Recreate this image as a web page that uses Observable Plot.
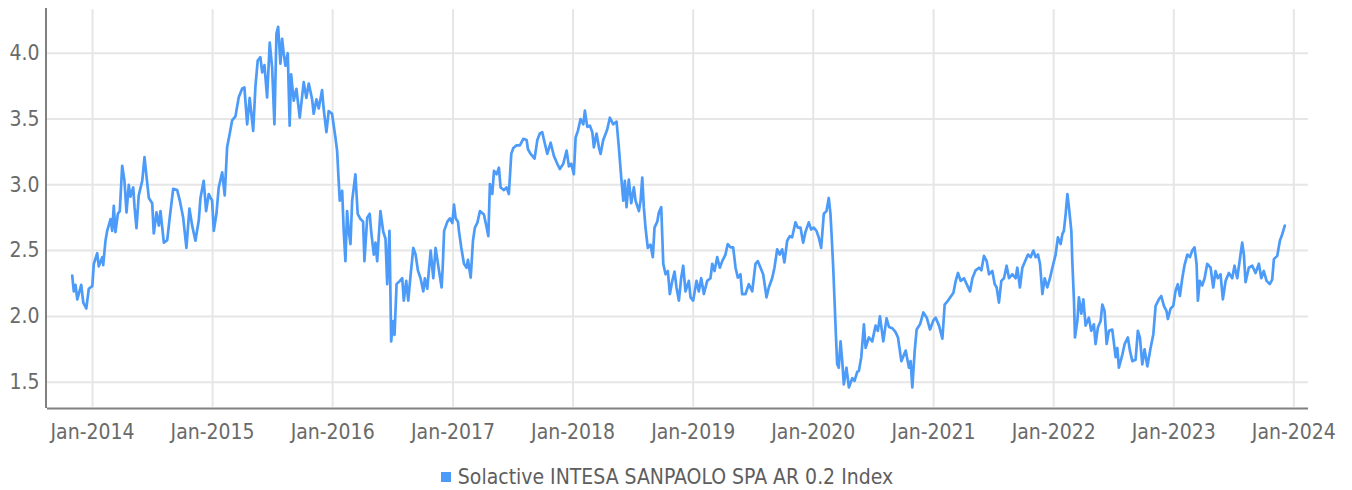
<!DOCTYPE html>
<html>
<head>
<meta charset="utf-8">
<script src="https://cdn.jsdelivr.net/npm/d3@7"></script>
<script src="https://cdn.jsdelivr.net/npm/@observablehq/plot@0.6"></script>
<style>
  html, body { margin: 0; padding: 0; background: #ffffff; }
  body { font-family: "DejaVu Sans Condensed", "DejaVu Sans", sans-serif; font-stretch: condensed; }
  #legend { display: flex; justify-content: center; align-items: center; margin-top: 11px; margin-left: -18px;
            font-size: 21px; line-height: 22px; color: #5e5e5e; }
  #legend .sw { width: 10px; height: 10px; margin-right: 7px; }
</style>
</head>
<body>
<div id="chart"></div>
<div id="legend"></div>
<script>
// ---- data (dates as decimal years, values of the index) ----
const seriesName = "Solactive INTESA SANPAOLO SPA AR 0.2 Index";
const t = [
2013.831,2013.844,2013.858,2013.873,2013.906,2013.923,2013.948,2013.969,2013.998,2014.011,
2014.039,2014.052,2014.081,2014.089,2014.108,2014.122,2014.150,2014.164,2014.177,2014.191,
2014.211,2014.227,2014.247,2014.266,2014.283,2014.302,2014.316,2014.339,2014.350,2014.366,
2014.385,2014.414,2014.433,2014.450,2014.469,2014.497,2014.510,2014.533,2014.552,2014.566,
2014.594,2014.622,2014.643,2014.672,2014.705,2014.727,2014.755,2014.782,2014.807,2014.830,
2014.857,2014.885,2014.899,2014.926,2014.946,2014.968,2014.996,2015.010,2015.032,2015.051,
2015.080,2015.101,2015.121,2015.143,2015.163,2015.190,2015.218,2015.246,2015.265,2015.288,
2015.309,2015.338,2015.357,2015.376,2015.398,2015.413,2015.432,2015.454,2015.476,2015.496,
2015.515,2015.532,2015.546,2015.565,2015.579,2015.592,2015.607,2015.626,2015.642,2015.654,
2015.676,2015.698,2015.726,2015.759,2015.781,2015.801,2015.829,2015.842,2015.865,2015.884,
2015.912,2015.925,2015.948,2015.967,2015.995,2016.023,2016.037,2016.050,2016.059,2016.079,
2016.092,2016.106,2016.120,2016.134,2016.148,2016.162,2016.189,2016.208,2016.231,2016.253,
2016.264,2016.287,2016.308,2016.320,2016.342,2016.356,2016.370,2016.397,2016.420,2016.439,
2016.453,2016.472,2016.486,2016.503,2016.514,2016.531,2016.558,2016.578,2016.591,2016.611,
2016.628,2016.647,2016.670,2016.689,2016.708,2016.730,2016.753,2016.766,2016.786,2016.814,
2016.836,2016.855,2016.883,2016.905,2016.914,2016.926,2016.953,2016.974,2016.994,2017.008,
2017.022,2017.041,2017.049,2017.069,2017.091,2017.113,2017.124,2017.147,2017.166,2017.182,
2017.202,2017.224,2017.257,2017.280,2017.294,2017.307,2017.327,2017.341,2017.363,2017.382,
2017.396,2017.424,2017.446,2017.465,2017.485,2017.502,2017.529,2017.557,2017.585,2017.613,
2017.624,2017.646,2017.679,2017.702,2017.723,2017.743,2017.763,2017.785,2017.813,2017.840,
2017.868,2017.890,2017.918,2017.946,2017.965,2017.985,2018.006,2018.021,2018.040,2018.062,
2018.085,2018.098,2018.118,2018.140,2018.160,2018.173,2018.195,2018.215,2018.229,2018.251,
2018.284,2018.306,2018.334,2018.362,2018.381,2018.401,2018.418,2018.431,2018.445,2018.464,
2018.484,2018.506,2018.520,2018.548,2018.562,2018.576,2018.589,2018.603,2018.622,2018.645,
2018.664,2018.678,2018.701,2018.714,2018.734,2018.751,2018.770,2018.789,2018.806,2018.826,
2018.845,2018.861,2018.881,2018.900,2018.917,2018.936,2018.964,2018.978,2019.000,2019.028,
2019.047,2019.067,2019.089,2019.117,2019.144,2019.159,2019.178,2019.200,2019.222,2019.242,
2019.269,2019.288,2019.311,2019.333,2019.353,2019.372,2019.394,2019.408,2019.436,2019.463,
2019.492,2019.519,2019.538,2019.561,2019.583,2019.611,2019.630,2019.658,2019.677,2019.700,
2019.721,2019.741,2019.760,2019.783,2019.805,2019.824,2019.852,2019.871,2019.894,2019.916,
2019.935,2019.963,2019.983,2020.004,2020.027,2020.046,2020.066,2020.088,2020.110,2020.129,
2020.143,2020.152,2020.166,2020.177,2020.188,2020.199,2020.212,2020.227,2020.241,2020.254,
2020.276,2020.296,2020.324,2020.343,2020.366,2020.379,2020.399,2020.421,2020.435,2020.462,
2020.490,2020.518,2020.537,2020.554,2020.582,2020.609,2020.629,2020.657,2020.684,2020.704,
2020.732,2020.768,2020.795,2020.809,2020.823,2020.843,2020.859,2020.887,2020.915,2020.943,
2020.970,2020.998,2021.017,2021.045,2021.073,2021.092,2021.120,2021.142,2021.165,2021.184,
2021.203,2021.225,2021.253,2021.275,2021.303,2021.323,2021.350,2021.378,2021.398,2021.419,
2021.442,2021.461,2021.489,2021.509,2021.525,2021.544,2021.564,2021.586,2021.608,2021.628,
2021.656,2021.683,2021.697,2021.719,2021.739,2021.767,2021.786,2021.808,2021.831,2021.850,
2021.869,2021.886,2021.906,2021.925,2021.947,2021.969,2021.989,2022.016,2022.035,2022.058,
2022.072,2022.085,2022.100,2022.114,2022.127,2022.147,2022.155,2022.169,2022.177,2022.197,
2022.210,2022.230,2022.247,2022.266,2022.293,2022.313,2022.335,2022.349,2022.368,2022.391,
2022.405,2022.424,2022.441,2022.460,2022.488,2022.516,2022.530,2022.543,2022.572,2022.591,
2022.618,2022.635,2022.655,2022.682,2022.701,2022.718,2022.738,2022.757,2022.780,2022.807,
2022.830,2022.849,2022.876,2022.896,2022.918,2022.940,2022.951,2022.974,2022.996,2023.015,
2023.034,2023.051,2023.071,2023.090,2023.113,2023.134,2023.154,2023.173,2023.190,2023.201,
2023.217,2023.237,2023.257,2023.279,2023.307,2023.329,2023.348,2023.367,2023.390,2023.409,
2023.432,2023.459,2023.487,2023.506,2023.529,2023.556,2023.570,2023.584,2023.598,2023.625,
2023.654,2023.681,2023.709,2023.729,2023.750,2023.773,2023.800,2023.820,2023.834,2023.862,
2023.884,2023.904,2023.925
];
const v = [
2.31,2.19,2.24,2.13,2.24,2.105,2.06,2.21,2.23,2.40,
2.48,2.38,2.45,2.39,2.575,2.65,2.74,2.65,2.84,2.64,
2.78,2.80,3.145,3.03,2.79,3.00,2.91,2.98,2.83,2.67,
2.92,3.03,3.21,3.06,2.90,2.86,2.63,2.79,2.69,2.80,
2.56,2.58,2.75,2.97,2.96,2.88,2.75,2.52,2.82,2.69,
2.575,2.73,2.90,3.03,2.80,2.93,2.88,2.65,2.78,2.98,
3.095,2.92,3.285,3.39,3.49,3.52,3.665,3.73,3.74,3.46,
3.66,3.41,3.75,3.945,3.97,3.855,3.91,3.665,4.08,3.89,
3.46,4.15,4.20,3.92,4.11,4.00,3.905,4.00,3.45,3.84,
3.64,3.73,3.51,3.78,3.66,3.77,3.65,3.54,3.65,3.58,
3.72,3.58,3.40,3.56,3.54,3.36,3.26,3.03,2.88,2.955,
2.65,2.42,2.80,2.645,2.55,2.88,3.08,2.78,2.74,2.72,
2.42,2.75,2.78,2.645,2.47,2.56,2.42,2.80,2.645,2.59,
2.245,2.65,1.81,1.965,1.86,2.245,2.27,2.29,2.12,2.27,
2.12,2.31,2.52,2.47,2.35,2.29,2.19,2.29,2.21,2.50,
2.29,2.52,2.35,2.22,2.37,2.65,2.72,2.745,2.71,2.85,
2.745,2.72,2.65,2.52,2.40,2.37,2.43,2.295,2.575,2.675,
2.71,2.80,2.775,2.675,2.61,3.005,2.93,3.107,3.08,3.13,
2.98,2.96,2.98,2.93,3.235,3.28,3.30,3.30,3.35,3.34,
3.27,3.235,3.20,3.34,3.39,3.40,3.32,3.235,3.32,3.22,
3.16,3.12,3.16,3.26,3.14,3.16,3.08,3.36,3.41,3.50,
3.46,3.564,3.44,3.45,3.40,3.285,3.39,3.285,3.235,3.34,
3.42,3.51,3.46,3.48,3.285,3.055,2.88,3.03,2.83,3.04,
2.86,2.98,2.88,2.80,2.88,3.055,2.83,2.675,2.52,2.545,
2.45,2.675,2.72,2.79,2.83,2.40,2.32,2.345,2.17,2.27,
2.34,2.22,2.12,2.29,2.385,2.19,2.27,2.145,2.12,2.27,
2.19,2.29,2.17,2.27,2.29,2.40,2.345,2.45,2.37,2.42,
2.47,2.55,2.525,2.525,2.37,2.295,2.32,2.17,2.17,2.245,
2.19,2.40,2.42,2.37,2.32,2.145,2.22,2.29,2.37,2.51,
2.47,2.51,2.41,2.575,2.61,2.60,2.715,2.675,2.675,2.56,
2.64,2.715,2.66,2.675,2.65,2.60,2.52,2.78,2.80,2.90,
2.78,2.63,2.37,2.12,1.865,1.636,1.61,1.81,1.66,1.484,
1.61,1.46,1.53,1.51,1.58,1.585,1.69,1.94,1.76,1.84,
1.81,1.93,1.89,2.00,1.81,1.985,1.92,1.91,1.88,1.84,
1.66,1.74,1.61,1.66,1.46,1.74,1.90,1.94,2.03,1.99,
1.90,1.97,1.99,1.93,1.83,2.09,2.12,2.15,2.18,2.27,
2.33,2.27,2.29,2.245,2.19,2.29,2.35,2.37,2.35,2.46,
2.42,2.32,2.345,2.245,2.22,2.105,2.27,2.29,2.385,2.29,
2.32,2.29,2.37,2.22,2.37,2.43,2.47,2.45,2.50,2.45,
2.47,2.40,2.17,2.29,2.22,2.29,2.37,2.47,2.60,2.55,
2.625,2.65,2.78,2.93,2.83,2.65,2.42,2.12,1.84,1.965,
2.145,2.02,2.13,1.93,1.99,1.89,1.94,1.79,1.915,1.965,
2.09,2.04,1.79,1.89,1.90,1.69,1.76,1.61,1.71,1.79,
1.84,1.74,1.66,1.67,1.89,1.84,1.636,1.75,1.62,1.76,
1.865,2.08,2.13,2.155,2.08,2.04,1.98,2.06,2.08,2.195,
2.245,2.155,2.29,2.39,2.47,2.45,2.50,2.525,2.40,2.12,
2.27,2.235,2.29,2.40,2.37,2.22,2.345,2.29,2.32,2.13,
2.27,2.33,2.29,2.385,2.29,2.47,2.56,2.47,2.26,2.37,
2.385,2.33,2.40,2.29,2.345,2.27,2.245,2.28,2.435,2.46,
2.575,2.625,2.69
];
const yTicks = [1.5, 2.0, 2.5, 3.0, 3.5, 4.0];
const xTickYears = [2014, 2015, 2016, 2017, 2018, 2019, 2020, 2021, 2022, 2023, 2024];

// ---- build ----
function toDate(y) {
  const yr = Math.floor(y);
  const s = Date.UTC(yr, 0, 1), e = Date.UTC(yr + 1, 0, 1);
  return new Date(s + (y - yr) * (e - s));
}
const data = t.map((d, i) => ({date: toDate(d), value: v[i]}));
const xTicks = xTickYears.map(y => new Date(Date.UTC(y, 0, 1)));
const xStart = toDate(2013.625), xEnd = toDate(2024.122);
const yMin = 1.3, yMax = 4.34;
const lineColor = "#4d9bf8";
const font = '"DejaVu Sans Condensed", "DejaVu Sans", sans-serif';

const chart = Plot.plot({
  width: 1352,
  height: 455,
  marginLeft: 47,
  marginRight: 44,
  marginTop: 8,
  marginBottom: 47,
  style: {fontFamily: font, fontSize: "21px", color: "#6a6a6a", background: "#fff", fontStretch: "condensed"},
  x: {type: "utc", domain: [xStart, xEnd], ticks: xTicks, tickFormat: d3.utcFormat("%b-%Y"),
      tickSize: 0, tickPadding: 16, label: null},
  y: {domain: [yMin, yMax], ticks: yTicks, tickFormat: d3.format(".1f"),
      tickSize: 0, tickPadding: 8, label: null},
  marks: [
    Plot.ruleY(yTicks, {stroke: "#e6e6e6", strokeWidth: 2}),
    Plot.ruleX(xTicks, {stroke: "#e6e6e6", strokeWidth: 2, y1: 1.31, y2: 4.33}),
    Plot.lineY(data, {x: "date", y: "value", stroke: lineColor, strokeWidth: 2.7, strokeLinejoin: "round"}),
    Plot.ruleX([xStart], {stroke: "#808080", strokeWidth: 2, dx: -1.5}),
    Plot.ruleY([yMin], {stroke: "#808080", strokeWidth: 2})
  ]
});
document.getElementById("chart").appendChild(chart);

const legend = document.getElementById("legend");
const sw = document.createElement("span");
sw.className = "sw";
sw.style.background = lineColor;
const lbl = document.createElement("span");
lbl.textContent = seriesName;
legend.appendChild(sw);
legend.appendChild(lbl);
</script>
</body>
</html>
